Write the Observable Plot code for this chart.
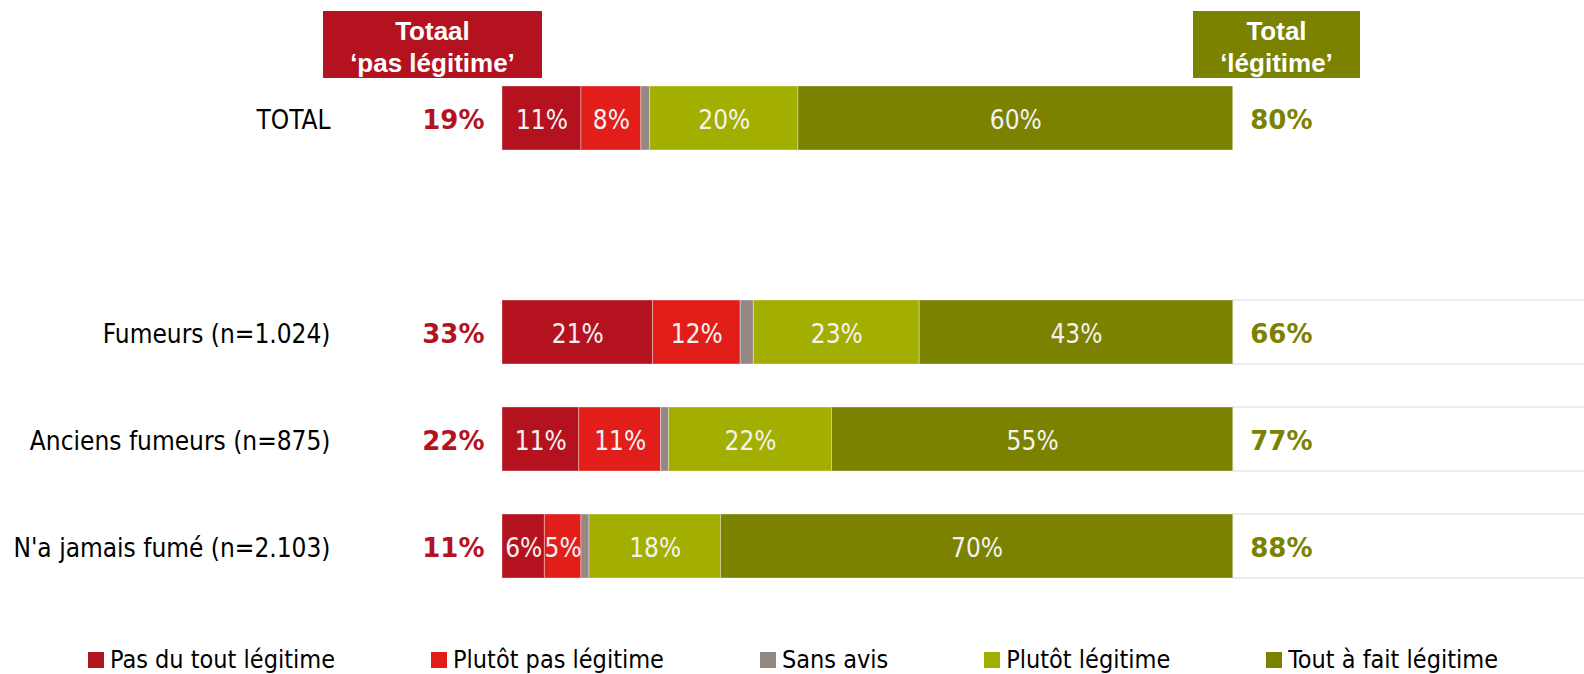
<!DOCTYPE html>
<html>
<head>
<meta charset="utf-8">
<script src="https://cdn.jsdelivr.net/npm/d3@7"></script>
<script src="https://cdn.jsdelivr.net/npm/@observablehq/plot@0.6"></script>
<style>
  body { margin: 0; background: #fff; }
  #wrap { position: relative; width: 1584px; height: 674px; overflow: hidden; }
  #chart svg { display: block; }
  .hdr { position: absolute; top: 11px; height: 67px; box-sizing: border-box; padding-top: 4px;
         color: #fff; font: bold 26px/32px "Liberation Sans", Arial, sans-serif; text-align: center; }
  #legend { position: absolute; left: 88px; top: 645px; display: flex; gap: 96px; align-items: center;
            font: 25px "DejaVu Sans Condensed", "DejaVu Sans", sans-serif; color: #000; white-space: nowrap; }
  #legend .item { display: flex; align-items: center; }
  #legend .sw { width: 16px; height: 16px; margin-right: 6px; }
</style>
</head>
<body>
<div id="wrap">
  <div id="chart"></div>
  <div class="hdr" id="hdrPas" style="left:323px;width:219px;background:#b5121f;"></div>
  <div class="hdr" id="hdrLeg" style="left:1193px;width:167px;background:#7a8200;"></div>
  <div id="legend"></div>
</div>
<script>
// ---- data ----
const rows = ["TOTAL", "Fumeurs (n=1.024)", "Anciens fumeurs (n=875)", "N'a jamais fumé (n=2.103)"];
const categories = ["Pas du tout légitime", "Plutôt pas légitime", "Sans avis", "Plutôt légitime", "Tout à fait légitime"];
const colors = ["#b5121f", "#e21e1b", "#958884", "#a3af00", "#7a8200"];
const pasDuTout = [10.8, 20.6, 10.5, 5.8];
const plutotPas = [8.2, 12.0, 11.2, 5.0];
const sansAvis = [1.2, 1.8, 1.1, 1.1];
const plutotLeg = [20.3, 22.7, 22.3, 18.0];
const toutAFait = [59.5, 42.9, 54.9, 70.1];
const totalPas = [19, 33, 22, 11];
const totalLeg = [80, 66, 77, 88];
const headerPas = ["Totaal", "‘pas légitime’"];
const headerLeg = ["Total", "‘légitime’"];

const series = [pasDuTout, plutotPas, sansAvis, plutotLeg, toutAFait];
const data = [];
rows.forEach((r, i) => series.forEach((s, j) => data.push({row: r, cat: categories[j], value: s[i]})));
const totals = rows.map((r, i) => ({row: r, pas: totalPas[i], leg: totalLeg[i]}));
const yDomain = [rows[0], " ", ...rows.slice(1)];

const condensed = '"DejaVu Sans Condensed", "DejaVu Sans", sans-serif';

const plot = Plot.plot({
  width: 1584, height: 645,
  marginLeft: 502, marginRight: 0, marginTop: 0, marginBottom: 0,
  x: {domain: [0, 100], range: [502, 1232.7], axis: null},
  y: {domain: yDomain, range: [64.5, 599.5], paddingInner: 0.402, paddingOuter: 0.201, align: 0.5},
  color: {domain: categories, range: colors},
  style: {fontFamily: condensed, fontSize: "26px", color: "#000", background: "#fff"},
  marks: [
    Plot.barX(rows.slice(1), {x1: 100, x2: 160, y: d => d, fill: "#fff", stroke: "#e3e7e8", strokeWidth: 1.5}),
    Plot.barX(data, Plot.stackX({x: "value", y: "row", fill: "cat", stroke: "#fff", strokeOpacity: 0.35, strokeWidth: 1})),
    Plot.text(data, Plot.stackX({x: "value", y: "row", z: "cat",
      text: d => d.cat === "Sans avis" ? "" : Math.round(d.value) + "%",
      fill: "#f2f2f2", fontSize: 26, fontFamily: condensed, dy: 2})),
    Plot.text(totals, {x: 0, y: "row", text: d => d.pas + "%", textAnchor: "end", dx: -18, dy: 2,
      fill: "#b5121f", fontWeight: "bold", fontSize: 26, fontFamily: "DejaVu Sans"}),
    Plot.text(totals, {x: 100, y: "row", text: d => d.leg + "%", textAnchor: "start", dx: 17, dy: 2,
      fill: "#7a8200", fontWeight: "bold", fontSize: 26, fontFamily: "DejaVu Sans"}),
    Plot.axisY({tickSize: 0, tickPadding: 172, fontSize: 26, dy: 2, label: null})
  ]
});
document.getElementById("chart").appendChild(plot);

document.getElementById("hdrPas").innerHTML = headerPas.join("<br>");
document.getElementById("hdrLeg").innerHTML = headerLeg.join("<br>");

const legend = document.getElementById("legend");
categories.forEach((c, i) => {
  const item = document.createElement("div");
  item.className = "item";
  item.innerHTML = `<span class="sw" style="background:${colors[i]}"></span><span>${c}</span>`;
  legend.appendChild(item);
});
</script>
</body>
</html>
